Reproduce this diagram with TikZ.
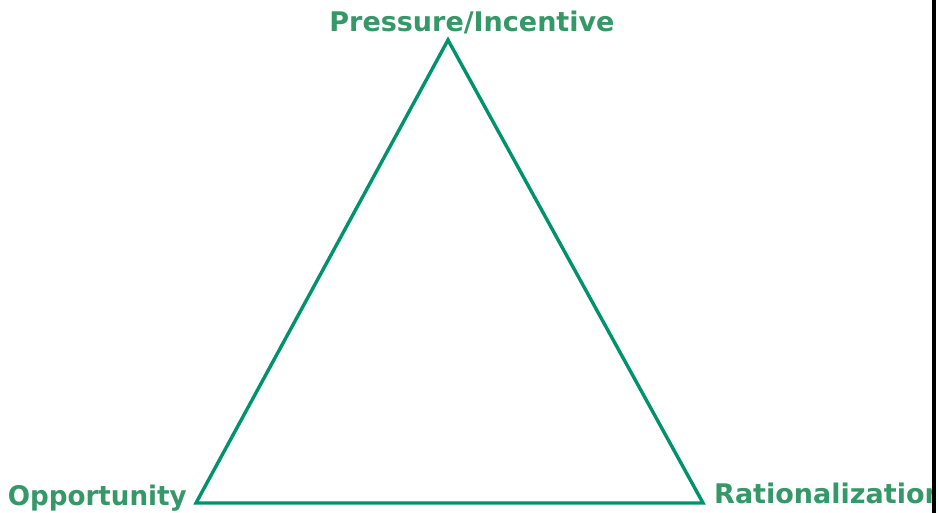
\documentclass[tikz,border=0pt]{standalone}
\usepackage{fontspec}
\setmainfont{DejaVu Sans}
\usetikzlibrary{positioning}
\definecolor{labelgreen}{RGB}{52,152,104}
\definecolor{edgegreen}{RGB}{0,146,108}

\begin{document}
\begin{tikzpicture}[x=1pt, y=-1pt,
	vertexlabel/.style={font=\fontsize{27}{30}\selectfont\bfseries, text=labelgreen, inner sep=0pt},
	edge/.style={draw=edgegreen, line width=3.4pt, line join=miter}]

		\def\W{939} \def\H{513}
		\def\cut{932} % right edge where the frame bar starts

		% canvas
		\useasboundingbox (0,0) rectangle (\W,\H);
		\fill[white] (0,0) rectangle (\W,\H);

		% corners of the triangle
		\coordinate (apex) at (448,40);
		\coordinate (left) at (196,503);
		\coordinate (right) at (703,503);

		% triangle
		\draw[edge] (apex) -- (left) -- (right) -- cycle;

		% labels at the corners
		\begin{scope}
			\clip (0,0) rectangle (\cut,\H);
			\node[vertexlabel, anchor=base] (pressure) at (472,32) {Pressure/Incentive};
			\node[vertexlabel, anchor=base east, xscale=0.97] (opportunity) at (187,505) {Opportunity};
			\node[vertexlabel, anchor=base west] (rational) at (714,503) {Rationalization};
		\end{scope}

		% frame bar on the right
		\fill[black] (\cut,0) rectangle (\cut+4,\H);

	\end{tikzpicture}
\end{document}
